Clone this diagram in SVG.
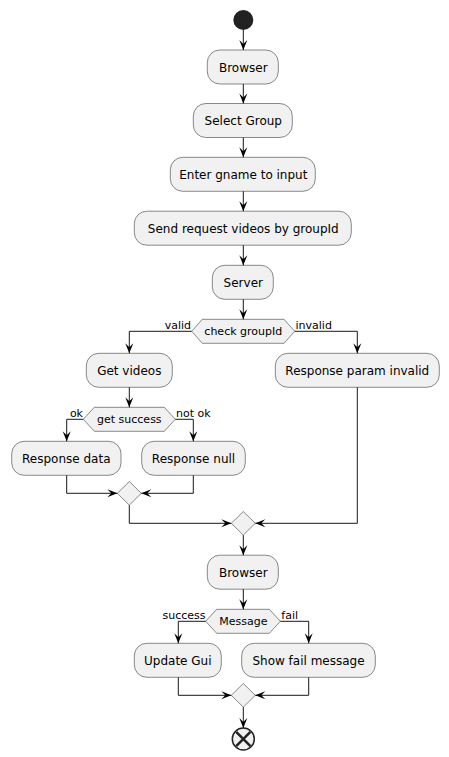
<svg xmlns="http://www.w3.org/2000/svg" width="449" height="757" viewBox="0 0 449 757">
<style>
.act rect{fill:#F1F1F1;stroke:#181818;stroke-width:0.5}
.dec polygon{fill:#F1F1F1;stroke:#181818;stroke-width:0.5}
.t{font-family:"DejaVu Sans",sans-serif;font-size:12px;fill:#000;text-anchor:middle}
.s{font-family:"DejaVu Sans",sans-serif;font-size:11px;fill:#000}
.c{text-anchor:middle}
.e{text-anchor:end}
#connectors path{fill:none;stroke:#181818;stroke-width:1}
#connectors polygon{fill:#181818;stroke:#181818;stroke-width:1}
</style>
<defs>
<polygon id="ad" points="-4,-10 0,0 4,-10 0,-6"/>
<polygon id="ar" points="-10,-4 0,0 -10,4 -6,0"/>
<polygon id="al" points="10,-4 0,0 10,4 6,0"/>
</defs>
<g id="start"><circle cx="243.3" cy="20" r="10" fill="#222222"/></g>
<g id="browser1" class="act"><rect x="207.3" y="50" width="71" height="34" rx="12.5"/><text class="t" x="243.3" y="71.5">Browser</text></g>
<g id="selectGroup" class="act"><rect x="193.3" y="103.5" width="99" height="34" rx="12.5"/><text class="t" x="243.3" y="125">Select Group</text></g>
<g id="enterGname" class="act"><rect x="170.3" y="157.3" width="145" height="34" rx="12.5"/><text class="t" x="243.3" y="178.8">Enter gname to input</text></g>
<g id="sendRequest" class="act"><rect x="134.3" y="211.2" width="217" height="34" rx="12.5"/><text class="t" x="243.3" y="232.7">Send request videos by groupId</text></g>
<g id="server" class="act"><rect x="212.3" y="265.3" width="61" height="34" rx="12.5"/><text class="t" x="243.3" y="286.8">Server</text></g>
<g id="checkGroupId" class="dec"><polygon points="191.7,331.3 202.3,319.3 284,319.3 294.7,331.3 284,343.3 202.3,343.3"/><text class="s c" x="243.3" y="335.3">check groupId</text></g>
<g id="getVideos" class="act"><rect x="86.3" y="353.3" width="86" height="34" rx="12.5"/><text class="t" x="129.3" y="374.8">Get videos</text></g>
<g id="responseParamInvalid" class="act"><rect x="275.3" y="353.3" width="164" height="34" rx="12.5"/><text class="t" x="357.3" y="374.8">Response param invalid</text></g>
<g id="getSuccess" class="dec"><polygon points="83.3,419.3 94.3,407.3 164.3,407.3 175.3,419.3 164.3,431.3 94.3,431.3"/><text class="s c" x="129.3" y="423.3">get success</text></g>
<g id="responseData" class="act"><rect x="11.7" y="441.3" width="109.3" height="34" rx="12.5"/><text class="t" x="66.3" y="462.8">Response data</text></g>
<g id="responseNull" class="act"><rect x="141.7" y="441.3" width="103.6" height="34" rx="12.5"/><text class="t" x="193.5" y="462.8">Response null</text></g>
<g id="merge1" class="dec"><polygon points="129.3,481.5 141.3,493.3 129.3,505.1 117.3,493.3"/></g>
<g id="merge2" class="dec"><polygon points="243.3,511.5 255.3,523.3 243.3,535.1 231.3,523.3"/></g>
<g id="browser2" class="act"><rect x="207.3" y="555.2" width="71" height="34" rx="12.5"/><text class="t" x="243.3" y="576.7">Browser</text></g>
<g id="message" class="dec"><polygon points="205.7,621.3 216.7,609.3 269.3,609.3 280.3,621.3 269.3,633.3 216.7,633.3"/><text class="s c" x="243.3" y="625.3">Message</text></g>
<g id="updateGui" class="act"><rect x="134.3" y="643.3" width="87" height="34" rx="12.5"/><text class="t" x="177.8" y="664.8">Update Gui</text></g>
<g id="showFail" class="act"><rect x="241.7" y="643.3" width="133.6" height="34" rx="12.5"/><text class="t" x="308.5" y="664.8">Show fail message</text></g>
<g id="merge3" class="dec"><polygon points="243.3,683.5 255.3,695.3 243.3,707.1 231.3,695.3"/></g>
<g id="end"><circle cx="243.3" cy="739" r="11" fill="#F1F1F1" stroke="#222222" stroke-width="1.5"/><path d="M236.2,731.9 L250.4,746.1 M250.4,731.9 L236.2,746.1" stroke="#222222" stroke-width="2.5" fill="none"/></g>
<g id="connectors">
<path d="M243.3,30 V50"/><use href="#ad" x="243.3" y="50"/>
<path d="M243.3,84 V103.5"/><use href="#ad" x="243.3" y="103.5"/>
<path d="M243.3,137.5 V157.3"/><use href="#ad" x="243.3" y="157.3"/>
<path d="M243.3,191.3 V211.2"/><use href="#ad" x="243.3" y="211.2"/>
<path d="M243.3,245.2 V265.3"/><use href="#ad" x="243.3" y="265.3"/>
<path d="M243.3,299.3 V319.3"/><use href="#ad" x="243.3" y="319.3"/>
<path d="M191.7,331.3 H129.3 V353.3"/><use href="#ad" x="129.3" y="353.3"/>
<path d="M294.7,331.3 H357.3 V353.3"/><use href="#ad" x="357.3" y="353.3"/>
<path d="M129.3,387.3 V407.3"/><use href="#ad" x="129.3" y="407.3"/>
<path d="M83.3,419.3 H66.7 V441.3"/><use href="#ad" x="66.7" y="441.3"/>
<path d="M175.3,419.3 H193.3 V441.3"/><use href="#ad" x="193.3" y="441.3"/>
<path d="M66.7,475.3 V493.3 H117.3"/><use href="#ar" x="117.3" y="493.3"/>
<path d="M193.3,475.3 V493.3 H141.3"/><use href="#al" x="141.3" y="493.3"/>
<path d="M129.3,505.1 V523.3 H231.3"/><use href="#ar" x="231.3" y="523.3"/>
<path d="M357.3,387.3 V523.3 H255.3"/><use href="#al" x="255.3" y="523.3"/>
<path d="M243.3,535.1 V555.2"/><use href="#ad" x="243.3" y="555.2"/>
<path d="M243.3,589.2 V609.3"/><use href="#ad" x="243.3" y="609.3"/>
<path d="M205.7,621.3 H178.3 V643.3"/><use href="#ad" x="178.3" y="643.3"/>
<path d="M280.3,621.3 H308.7 V643.3"/><use href="#ad" x="308.7" y="643.3"/>
<path d="M178.3,677.3 V695.3 H231.3"/><use href="#ar" x="231.3" y="695.3"/>
<path d="M308.7,677.3 V695.3 H255.3"/><use href="#al" x="255.3" y="695.3"/>
<path d="M243.3,707.1 V728"/><use href="#ad" x="243.3" y="728"/>
<text class="s e" x="191" y="328.7">valid</text>
<text class="s" x="295.5" y="328.7">invalid</text>
<text class="s e" x="83" y="416.7">ok</text>
<text class="s" x="176" y="416.7">not ok</text>
<text class="s e" x="205.5" y="618.7">success</text>
<text class="s" x="281.3" y="618.7">fail</text>
</g>
</svg>
